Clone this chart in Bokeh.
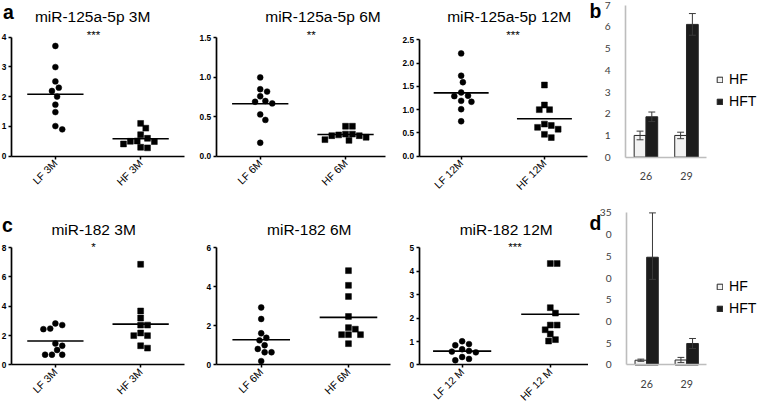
import math
import numpy as np
from bokeh.plotting import figure
from bokeh.models import Label, FixedTicker, Legend, LegendItem
from bokeh.layouts import row, column
from bokeh.embed import file_html
from bokeh.resources import INLINE

# ---------------- data ----------------
a_titles = ["miR-125a-5p 3M", "miR-125a-5p 6M", "miR-125a-5p 12M"]
a_stars = ["***", "**", "***"]
a_groups = [["LF 3M", "HF 3M"], ["LF 6M", "HF 6M"], ["LF 12M", "HF 12M"]]
a_yticks = [[0, 1, 2, 3, 4], [0.0, 0.5, 1.0, 1.5], [0.0, 0.5, 1.0, 1.5, 2.0, 2.5]]
a_ytick_labels = [["0", "1", "2", "3", "4"], ["0.0", "0.5", "1.0", "1.5"],
                  ["0.0", "0.5", "1.0", "1.5", "2.0", "2.5"]]
a_lf_3m = [3.70, 2.99, 2.51, 2.30, 2.19, 2.00, 1.73, 1.48, 1.01, 0.90]
a_hf_3m = [1.10, 0.94, 0.72, 0.60, 0.50, 0.51, 0.49, 0.41, 0.28, 0.30]
a_lf_6m = [1.00, 0.85, 0.82, 0.76, 0.70, 0.67, 0.69, 0.53, 0.46, 0.17]
a_hf_6m = [0.38, 0.38, 0.28, 0.27, 0.24, 0.20, 0.21, 0.26, 0.26, 0.28]
a_lf_12m = [2.21, 1.73, 1.59, 1.37, 1.29, 1.30, 1.17, 1.19, 1.01, 0.75]
a_hf_12m = [1.53, 1.10, 1.00, 1.00, 0.69, 0.66, 0.62, 0.58, 0.47, 0.40]

c_titles = ["miR-182 3M", "miR-182 6M", "miR-182 12M"]
c_stars = ["*", "", "***"]
c_groups = [["LF 3M", "HF 3M"], ["LF 6M", "HF 6M"], ["LF 12 M", "HF 12 M"]]
c_yticks = [[0, 2, 4, 6, 8], [0, 2, 4, 6], [0, 1, 2, 3, 4, 5]]
c_ytick_labels = [["0", "2", "4", "6", "8"], ["0", "2", "4", "6"], ["0", "1", "2", "3", "4", "5"]]
c_lf_3m = [2.83, 2.72, 2.48, 2.44, 1.46, 1.31, 1.02, 0.70, 0.70, 0.70]
c_hf_3m = [6.86, 3.68, 3.20, 2.72, 2.72, 2.18, 2.00, 2.00, 1.31, 1.15]
c_lf_6m = [2.94, 2.35, 1.62, 1.39, 1.26, 1.01, 0.82, 0.65, 0.65, 0.20]
c_hf_6m = [4.82, 4.07, 3.50, 2.48, 1.91, 1.83, 1.55, 1.55, 1.55, 1.09]
c_lf_12m = [1.01, 0.89, 0.84, 0.67, 0.60, 0.57, 0.54, 0.34, 0.26, 0.20]
c_hf_12m = [4.32, 4.32, 2.44, 2.21, 1.70, 1.70, 1.50, 1.32, 1.08, 1.02]

bd_groups = ["26", "29"]
bd_series = ["HF", "HFT"]
b_yticks = [0, 1, 2, 3, 4, 5, 6, 7]
b_ytick_labels = ["0", "1", "2", "3", "4", "5", "6", "7"]
b_hf = [1.00, 1.00]
b_hf_err = [0.20, 0.15]
b_hft = [1.86, 6.12]
b_hft_err = [0.22, 0.50]
d_yticks = [0, 5, 10, 15, 20, 25, 30, 35]
d_ytick_labels = ["0", "5", "0", "5", "0", "5", "0", "35"]
d_hf = [1.10, 1.15]
d_hf_err = [0.25, 0.60]
d_hft = [24.8, 4.95]
d_hft_err_low = [5.1, 1.15]
d_hft_err_high = [10.2, 1.15]

# ---------------- layout helpers ----------------
SX = 762 / 778
SY = 403 / 419
FS = 0.97
FONT = "Liberation Sans"
FONT2 = "Lato"


def X(v):
    return int(round(v * SX))


def Y(v):
    return int(round(v * SY))


def fpx(v):
    return f"{v * FS:.1f}px"


def swarm(vals, ppx_x, ppx_y, diam):
    vals = np.asarray(vals, float)
    order = np.argsort(-vals, kind="stable")
    placed = []
    offs = np.zeros(len(vals))
    step = diam / 4.0
    cands = [0.0]
    for k in range(1, 80):
        cands += [k * step, -k * step]
    for i in order:
        yp = vals[i] * ppx_y
        chosen = 0.0
        for c in cands:
            if all((c - qx) ** 2 + (yp - qy) ** 2 >= (diam * 0.97) ** 2 for qx, qy in placed):
                chosen = c
                break
        placed.append((chosen, yp))
        offs[i] = chosen / ppx_x
    return offs


class Geo:
    """Maps reference-pixel positions inside one figure to data units."""

    def __init__(self, fig_box, xpx0, xunit, ypx0, ypx_top, ytop):
        self.fl, self.fr, self.ft, self.fb = fig_box
        self.xpx0, self.xunit = xpx0, xunit
        self.ypx0, self.ypx_top, self.ytop = ypx0, ypx_top, ytop

    def dx(self, px):
        return (px - self.xpx0) / self.xunit

    def dy(self, py):
        return self.ytop * (self.ypx0 - py) / (self.ypx0 - self.ypx_top)

    def fig(self):
        p = figure(width=X(self.fr) - X(self.fl), height=Y(self.fb) - Y(self.ft),
                   x_range=(self.dx(self.fl), self.dx(self.fr)),
                   y_range=(self.dy(self.fb), self.dy(self.ft)),
                   output_backend="svg", toolbar_location=None, title=None,
                   min_border_left=0, min_border_right=0, min_border_top=0, min_border_bottom=0)
        p.xgrid.visible = False
        p.ygrid.visible = False
        p.outline_line_color = None
        p.background_fill_color = "white"
        p.border_fill_color = "white"
        return p


def add_label(p, x, y, text, size, bold=False, font=FONT):
    p.add_layout(Label(x=x, y=y, text=text, text_font=font, text_font_size=size,
                       text_font_style="bold" if bold else "normal",
                       text_align="center", text_baseline="middle", text_color="black"))


def prism_panel(fig_box, frame_box, tick_px, ytop, yticks, ylabels, groups, lf, hf,
                title, title_xy, stars, stars_xy, letter=None, letter_xy=None):
    xl, xrr, yt, yb = frame_box
    g = Geo(fig_box, tick_px[0], tick_px[1] - tick_px[0], yb, yt, ytop)
    p = g.fig()

    ppx_x = (tick_px[1] - tick_px[0]) * SX
    ppx_y = (yb - yt) * SY / ytop
    msize = 6.0 * SX
    for k, (vals, marker) in enumerate([(lf, "circle"), (hf, "square")]):
        offs = swarm(vals, ppx_x, ppx_y, 7.0 * SX)
        p.scatter(k + offs, vals, marker=marker, size=msize, fill_color="black",
                  line_color="black", line_width=0.5)
        m = float(np.mean(vals))
        p.segment(x0=[k - 0.33], y0=[m], x1=[k + 0.33], y1=[m], line_color="black", line_width=1.6)

    xa, ya = p.xaxis[0], p.yaxis[0]
    xa.fixed_location = 0
    xa.bounds = (g.dx(xl), g.dx(xrr))
    ya.fixed_location = g.dx(xl)
    ya.bounds = (0, ytop)
    xa.ticker = FixedTicker(ticks=[0, 1])
    xa.major_label_overrides = {0: groups[0], 1: groups[1]}
    xa.major_label_orientation = math.pi / 4
    ya.ticker = FixedTicker(ticks=yticks)
    ya.major_label_overrides = {t: s for t, s in zip(yticks, ylabels)}
    for ax in (xa, ya):
        ax.axis_line_width = 1.7
        ax.axis_line_color = "black"
        ax.major_tick_line_width = 1.5
        ax.major_tick_line_color = "black"
        ax.major_tick_out = 3
        ax.major_tick_in = 0
        ax.minor_tick_line_color = None
        ax.major_label_text_font = FONT
        ax.major_label_text_color = "black"
        ax.major_label_standoff = 2
    ya.major_label_text_font_size = fpx(8.6)
    ya.major_label_text_font_style = "bold"
    xa.major_label_text_font_size = fpx(10.8)

    add_label(p, g.dx(title_xy[0]), g.dy(title_xy[1]), title, fpx(16))
    if stars:
        add_label(p, g.dx(stars_xy[0]), g.dy(stars_xy[1]), stars, fpx(12))
    if letter:
        add_label(p, g.dx(letter_xy[0]), g.dy(letter_xy[1]), letter, fpx(20), bold=True)
    return p


def bar_panel(fig_box, frame_box, ytop, yticks, ylabels, hf, hf_lo, hf_hi, hft, hft_lo, hft_hi,
              letter, letter_xy, legend_top_px):
    xl, xrr, yt, yb = frame_box
    cw_px = (xrr - xl) / len(bd_groups)
    g = Geo(fig_box, xl + cw_px / 2, cw_px, yb, yt, ytop)
    p = g.fig()

    idx = np.arange(len(bd_groups), dtype=float)
    bw = 0.29
    rends = []
    for k, (vals, lo, hi, fill) in enumerate([(hf, hf_lo, hf_hi, "#f2f2f2"),
                                              (hft, hft_lo, hft_hi, "#1c1c1c")]):
        xc = idx + (k - 0.5) * bw
        vals = np.asarray(vals, float)
        r = p.vbar(x=xc, top=vals, width=bw, bottom=0, fill_color=fill,
                   line_color="#262626", line_width=1)
        rends.append(r)
        lo_v = vals - np.asarray(lo, float)
        hi_v = vals + np.asarray(hi, float)
        p.segment(x0=xc, y0=lo_v, x1=xc, y1=hi_v, line_color="#3a3a3a", line_width=1)
        cw = 0.085
        p.segment(x0=xc - cw, y0=lo_v, x1=xc + cw, y1=lo_v, line_color="#3a3a3a", line_width=1)
        p.segment(x0=xc - cw, y0=hi_v, x1=xc + cw, y1=hi_v, line_color="#3a3a3a", line_width=1)

    xa, ya = p.xaxis[0], p.yaxis[0]
    xa.fixed_location = 0
    xa.bounds = (g.dx(xl), g.dx(xrr))
    ya.fixed_location = g.dx(xl)
    ya.bounds = (0, ytop)
    xa.ticker = FixedTicker(ticks=list(idx))
    xa.major_label_overrides = {float(i): s for i, s in zip(idx, bd_groups)}
    ya.ticker = FixedTicker(ticks=[float(t) for t in yticks])
    ya.major_label_overrides = {float(t): s for t, s in zip(yticks, ylabels)}
    for ax in (xa, ya):
        ax.axis_line_color = "#bdbdbd"
        ax.axis_line_width = 1.6
        ax.major_tick_line_color = None
        ax.minor_tick_line_color = None
        ax.major_label_text_font = FONT2
        ax.major_label_text_color = "#404040"
    ya.major_label_text_font_size = fpx(10.5)
    xa.major_label_text_font_size = fpx(11)
    ya.major_label_standoff = 9
    xa.major_label_standoff = 9

    legend = Legend(items=[LegendItem(label=bd_series[0], renderers=[rends[0]]),
                           LegendItem(label=bd_series[1], renderers=[rends[1]])],
                    location=(X(731) - X(g.fl), Y(g.fb) - Y(legend_top_px + 40)),
                    glyph_width=7, glyph_height=7, label_height=16, spacing=6,
                    padding=0, margin=0, label_standoff=6,
                    label_text_font=FONT, label_text_font_size=fpx(14.5),
                    label_text_color="black",
                    border_line_color=None, background_fill_alpha=0)
    p.add_layout(legend)
    add_label(p, g.dx(letter_xy[0]), g.dy(letter_xy[1]), letter, fpx(20), bold=True)
    return p


# ---------------- row 1 ----------------
a1 = prism_panel((0, 200, 0, 205), (11, 188, 38, 162), (56, 143), 4,
                 a_yticks[0], a_ytick_labels[0], a_groups[0], a_lf_3m, a_hf_3m,
                 a_titles[0], (94, 17), a_stars[0], (95, 35), "a", (8, 12))
a2 = prism_panel((200, 405, 0, 205), (220, 393, 39, 162), (265, 352), 1.5,
                 a_yticks[1], a_ytick_labels[1], a_groups[1], a_lf_6m, a_hf_6m,
                 a_titles[1], (329, 17), a_stars[1], (317, 35))
a3 = prism_panel((405, 600, 0, 205), (427, 599, 41, 162), (470, 555), 2.5,
                 a_yticks[2], a_ytick_labels[2], a_groups[2], a_lf_12m, a_hf_12m,
                 a_titles[2], (519, 17), a_stars[2], (523, 35))
b = bar_panel((600, 778, 0, 205), (638, 721, 5, 163), 7, b_yticks, b_ytick_labels,
              b_hf, b_hf_err, b_hf_err, b_hft, b_hft_err, b_hft_err, "b", (607, 11), 73)

# ---------------- row 2 ----------------
c1 = prism_panel((0, 200, 205, 419), (11, 188, 257, 379), (56, 143), 8,
                 c_yticks[0], c_ytick_labels[0], c_groups[0], c_lf_3m, c_hf_3m,
                 c_titles[0], (95, 238), c_stars[0], (95, 256), "c", (7, 234))
c2 = prism_panel((200, 405, 205, 419), (220, 398, 257, 379), (266, 355), 6,
                 c_yticks[1], c_ytick_labels[1], c_groups[1], c_lf_6m, c_hf_6m,
                 c_titles[1], (315, 238), c_stars[1], (315, 256))
c3 = prism_panel((405, 600, 205, 419), (427, 602, 257, 379), (471, 561), 5,
                 c_yticks[2], c_ytick_labels[2], c_groups[2], c_lf_12m, c_hf_12m,
                 c_titles[2], (516, 238), c_stars[2], (525, 256))
d = bar_panel((600, 778, 205, 419), (639, 721, 221, 379), 35, d_yticks, d_ytick_labels,
              d_hf, d_hf_err, d_hf_err, d_hft, d_hft_err_low, d_hft_err_high, "d", (607, 231), 289)

layout = column(row(a1, a2, a3, b, spacing=0), row(c1, c2, c3, d, spacing=0), spacing=0)

open("out.html", "w").write(file_html(layout, INLINE))
